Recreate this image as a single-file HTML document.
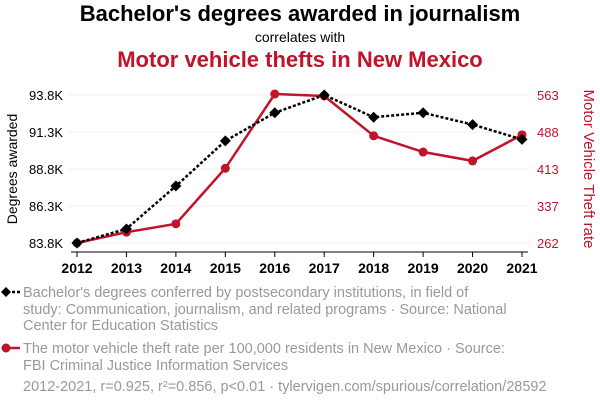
<!DOCTYPE html>
<html><head><meta charset="utf-8"><style>
body{margin:0;background:#fff;font-family:"Liberation Sans",sans-serif}
#wrap{position:relative;width:600px;height:408px;overflow:hidden}
.t{position:absolute;white-space:nowrap}
</style></head><body>
<div id="wrap">
<div class="t" style="left:0;width:600px;text-align:center;top:1px;font-size:22px;font-weight:bold;color:#000">Bachelor's degrees awarded in journalism</div>
<div class="t" style="left:0;width:600px;text-align:center;top:29px;font-size:14px;color:#000">correlates with</div>
<div class="t" style="left:0;width:600px;text-align:center;top:47px;font-size:22px;font-weight:bold;color:#c0142b">Motor vehicle thefts in New Mexico</div>
<svg id="svg" width="600" height="408" style="position:absolute;left:0;top:0"></svg>
<div class="t" style="left:23px;top:285px;font-size:14.5px;line-height:16.5px;color:#999;white-space:normal;width:486px">Bachelor's degrees conferred by postsecondary institutions, in field of study: Communication, journalism, and related programs · Source: National Center for Education Statistics</div>
<div class="t" style="left:23px;top:341px;font-size:14.5px;line-height:16.5px;color:#999;white-space:normal;width:486px">The motor vehicle theft rate per 100,000 residents in New Mexico · Source: FBI Criminal Justice Information Services</div>
<div class="t" style="left:23px;top:379px;font-size:14.5px;color:#999">2012-2021, r=0.925, r²=0.856, p&lt;0.01 · tylervigen.com/spurious/correlation/28592</div>
</div>
<script>
const years=[2012,2013,2014,2015,2016,2017,2018,2019,2020,2021];
const degrees=[83.8,84.75,87.65,90.7,92.6,93.8,92.3,92.6,91.8,90.8];
const thefts=[262,284,301,414,565,561,480,447,429,482];
const leftTicks=[83.8,86.3,88.8,91.3,93.8];
const leftLabels=["83.8K","86.3K","88.8K","91.3K","93.8K"];
const rightTicks=[262,337,413,488,563];
const NS="http://www.w3.org/2000/svg";
const svg=document.getElementById('svg');
const x=y=>77+(y-2012)*(522-77)/9;
const yl=v=>243-(v-83.8)*(148/10);
const yr=v=>243-(v-262)*(148/301);
function mk(t,a){const e=document.createElementNS(NS,t);for(const k in a)e.setAttribute(k,a[k]);svg.appendChild(e);return e;}
leftTicks.forEach((v,i)=>{
 const g=mk('line',{x1:68,x2:530,y1:yl(v),y2:yl(v),stroke:'#f0f0f0','stroke-width':1});
 
 
 const t=mk('text',{x:63,y:yl(v)+5,'text-anchor':'end','font-size':13,fill:'#000','font-family':'Liberation Sans'});
 t.textContent=leftLabels[i];
 
 
});
rightTicks.forEach(v=>{
 const t=mk('text',{x:537,y:yr(v)+5,'font-size':13,fill:'#c0142b','font-family':'Liberation Sans'});
 t.textContent=v;
 
 
});
const ax=mk('line',{x1:71,x2:528,y1:252,y2:252,stroke:'#000','stroke-width':1});


years.forEach(yv=>{
 const tk=mk('line',{x1:x(yv),x2:x(yv),y1:252,y2:257,stroke:'#000'});
 
 
 const t=mk('text',{x:x(yv),y:273,'text-anchor':'middle','font-size':14,'font-weight':'bold',fill:'#000','font-family':'Liberation Sans'});
 t.textContent=yv;
 
 
});
const lt=mk('text',{transform:'translate(17,169) rotate(-90)','text-anchor':'middle','font-size':14,fill:'#000','font-family':'Liberation Sans'});
lt.textContent='Degrees awarded';


const rt=mk('text',{transform:'translate(584,169) rotate(90)','text-anchor':'middle','font-size':15,fill:'#c0142b','font-family':'Liberation Sans'});
rt.textContent='Motor Vehicle Theft rate';


const rl=mk('polyline',{points:years.map((yv,i)=>x(yv)+','+yr(thefts[i])).join(' '),fill:'none',stroke:'#c0142b','stroke-width':2.5});


years.forEach((yv,i)=>{
 const c=mk('circle',{cx:x(yv),cy:yr(thefts[i]),r:4.5,fill:'#c0142b'});
 
 
});
const bl=mk('polyline',{points:years.map((yv,i)=>x(yv)+','+yl(degrees[i])).join(' '),fill:'none',stroke:'#000','stroke-width':2.5,'stroke-dasharray':'3,2'});


years.forEach((yv,i)=>{
 const cx=x(yv),cy=yl(degrees[i]);
 const d=mk('polygon',{points:`${cx},${cy-5.5} ${cx+5.5},${cy} ${cx},${cy+5.5} ${cx-5.5},${cy}`,fill:'#000'});
 
 
});
const l1=mk('line',{x1:2,x2:20,y1:292,y2:292,stroke:'#000','stroke-width':2.5,'stroke-dasharray':'3,2'});


const l1m=mk('polygon',{points:'6,287 11,292 6,297 1,292',fill:'#000'});


const l2=mk('line',{x1:2,x2:20,y1:348,y2:348,stroke:'#c0142b','stroke-width':2.5});


const l2m=mk('circle',{cx:6,cy:348,r:4.5,fill:'#c0142b'});


</script>
</body></html>
